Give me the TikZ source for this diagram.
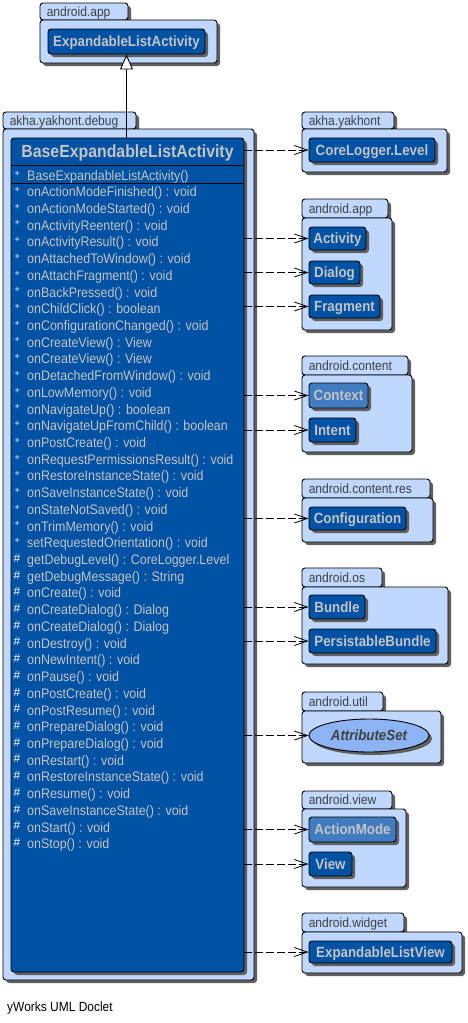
\documentclass[tikz,border=0pt]{standalone}
\usepackage{fontspec}
\setmainfont{Liberation Sans}
\newfontfamily\nf[FakeStretch=0.9]{Liberation Sans}
\usetikzlibrary{shadows,fit,arrows.meta,shapes.geometric,calc}
\definecolor{pkgblue}{HTML}{C0D8FF}
\definecolor{clsblue}{HTML}{0052A4}
\definecolor{clslight}{HTML}{3F7CC0}
\definecolor{ellblue}{HTML}{8CB4F4}
\definecolor{txtgray}{HTML}{C4C4C4}
\definecolor{pkgtext}{HTML}{404040}
\definecolor{shadowgray}{HTML}{606060}
\newcommand\pkgbox[4]{%
  \node[pkgtab, fit={#2}] (#1tab) {};
  \node[pkgbody, fit={#3}] (#1) {};
  \node[pkglabel] at ([xshift=7pt]#1tab.west) {#4};
}
\newcommand\clsnode[7]{%
  \pgfmathsetmacro\mycx{(#3+#5)/2}%
  \pgfmathsetmacro\mycy{(#4+#6)/2}%
  \pgfmathsetmacro\mycw{#5-#3}%
  \pgfmathsetmacro\mych{#6-#4}%
  \node[#1,minimum width=\mycw pt,minimum height=\mych pt] (#2) at (\mycx,\mycy) {#7};
}
\begin{document}
\begin{tikzpicture}[x=1pt,y=-1pt,
  shd/.style={drop shadow={shadow xshift=3pt,shadow yshift=-3pt,fill=shadowgray,opacity=1}},
  pkgtab/.style={draw=black,fill=pkgblue,rounded corners=3pt,line width=0.9pt,inner sep=0pt,shd},
  pkgbody/.style={pkgtab},
  pkglabel/.style={anchor=west,inner sep=0pt,text=pkgtext,text height=9.6pt,text depth=0pt,font=\nf\fontsize{13.4}{15}\selectfont},
  cls/.style={draw=black,fill=clsblue,rounded corners=3pt,line width=0.9pt,inner sep=0pt,shd,text=txtgray,text height=10.5pt,text depth=0pt,font=\nf\fontsize{14.8}{17}\selectfont\bfseries},
  clsl/.style={cls,fill=clslight},
  iface/.style={ellipse,draw=black,fill=ellblue,line width=0.9pt,inner sep=0pt,shd,minimum width=120pt,minimum height=33pt,text=pkgtext,text height=10.5pt,text depth=0pt,font=\nf\fontsize{14.8}{17}\selectfont\bfseries\itshape},
  dep/.style={draw=black,line width=0.8pt,dash pattern=on 8pt off 3pt,-{Straight Barb[length=13pt,width=9pt]}},
  inh/.style={draw=black,line width=0.9pt,-{Triangle[length=15pt,width=13pt,fill=white]}},
  meth/.style={anchor=base west,inner sep=0pt,text=txtgray,font=\nf\fontsize{13.85}{16}\selectfont},
  visp/.style={anchor=base west,inner sep=0pt,text=white,font=\fontsize{9}{11}\selectfont},
  vish/.style={anchor=base west,inner sep=0pt,text=white,font=\fontsize{12}{14}\selectfont},
  sepline/.style={draw=black,line width=0.8pt},
  foot/.style={anchor=base west,inner sep=0pt,text=black,font=\nf\fontsize{13.3}{15}\selectfont}
]
\useasboundingbox (0,0) rectangle (468,1023);

% packages
\pkgbox{pA}{(40,3)(128,20)}{(40,20)(217,63)}{android.app}
\pkgbox{pD}{(3,112)(136,129)}{(3,129)(254,980)}{akha.yakhont.debug}
\pkgbox{pY}{(302,112)(394,129)}{(302,129)(447,172)}{akha.yakhont}
\pkgbox{pB}{(302,199)(388,218)}{(302,218)(392,330)}{android.app}
\pkgbox{pC}{(302,356)(408,375)}{(302,375)(412,452)}{android.content}
\pkgbox{pR}{(302,479)(430,498)}{(302,498)(433,542)}{android.content.res}
\pkgbox{pO}{(302,568)(382,587)}{(302,587)(448,664)}{android.os}
\pkgbox{pU}{(302,692)(383,711)}{(302,711)(441,763)}{android.util}
\pkgbox{pV}{(302,791)(392,809)}{(302,809)(406,887)}{android.view}
\pkgbox{pW}{(302,913)(404,932)}{(302,932)(462,973)}{android.widget}

% classes
\clsnode{cls}{expl}{48}{29}{205}{54}{ExpandableListActivity}
\clsnode{cls}{big}{11}{138}{244}{972}{}
\clsnode{cls}{core}{309}{138}{435}{162}{CoreLogger.Level}
\clsnode{cls}{act}{309}{227}{366}{250}{Activity}
\clsnode{cls}{dlg}{309}{261}{360}{284}{Dialog}
\clsnode{cls}{frag}{309}{295}{380}{318}{Fragment}
\clsnode{clsl}{ctx}{309}{383}{368}{408}{Context}
\clsnode{cls}{intent}{309}{418}{356}{442}{Intent}
\clsnode{cls}{conf}{309}{507}{406}{530}{Configuration}
\clsnode{cls}{bundle}{309}{595}{365}{619}{Bundle}
\clsnode{cls}{pbundle}{309}{629}{436}{653}{PersistableBundle}
\node[iface] (attr) at (369,735.5) {AttributeSet};
\clsnode{clsl}{amode}{309}{817}{396}{842}{ActionMode}
\clsnode{cls}{view}{309}{852}{352}{876}{View}
\clsnode{cls}{elv}{309}{941}{452}{963}{ExpandableListView}

% big class contents
\node[anchor=base,text=txtgray,inner sep=0pt,font=\nf\fontsize{17.6}{20}\selectfont\bfseries] (title) at ($(big.north)+(0,20)$) {BaseExpandableListActivity};
\draw[sepline] ($(big.north west)+(0,28)$) -- ($(big.north east)+(0,28)$);
\draw[sepline] ($(big.north west)+(0,46)$) -- ($(big.north east)+(0,46)$);
\node[visp] (v0) at (14.5,176.5) {+};
\node[meth] (m0) at (27,180.7) {BaseExpandableListActivity()};
\foreach \t [count=\i from 0] in {
  onActionModeFinished() : void,
  onActionModeStarted() : void,
  onActivityReenter() : void,
  onActivityResult() : void,
  onAttachedToWindow() : void,
  onAttachFragment() : void,
  onBackPressed() : void,
  onChildClick() : boolean,
  onConfigurationChanged() : void,
  onCreateView() : View,
  onCreateView() : View,
  onDetachedFromWindow() : void,
  onLowMemory() : void,
  onNavigateUp() : boolean,
  onNavigateUpFromChild() : boolean,
  onPostCreate() : void,
  onRequestPermissionsResult() : void,
  onRestoreInstanceState() : void,
  onSaveInstanceState() : void,
  onStateNotSaved() : void,
  onTrimMemory() : void,
  setRequestedOrientation() : void}{
  \pgfmathsetmacro\yy{196.7+16.72*\i}
  \node[visp] (pv\i) at (14.5,\yy-4.2) {+};
  \node[meth] (pm\i) at (27,\yy) {\t};
}
\foreach \t [count=\i from 22] in {
  getDebugLevel() : CoreLogger.Level,
  getDebugMessage() : String,
  onCreate() : void,
  onCreateDialog() : Dialog,
  onCreateDialog() : Dialog,
  onDestroy() : void,
  onNewIntent() : void,
  onPause() : void,
  onPostCreate() : void,
  onPostResume() : void,
  onPrepareDialog() : void,
  onPrepareDialog() : void,
  onRestart() : void,
  onRestoreInstanceState() : void,
  onResume() : void,
  onSaveInstanceState() : void,
  onStart() : void,
  onStop() : void}{
  \pgfmathsetmacro\yy{196.7+16.72*\i}
  \node[vish] (hv\i) at (13.5,\yy-2.2) {\#};
  \node[meth] (hm\i) at (27,\yy) {\t};
}

% connectors
\draw[inh] (expl.south |- big.north) -- (expl.south);
\foreach \n in {core,act,dlg,frag,ctx,intent,conf,bundle,pbundle,attr,amode,view,elv}{
  \draw[dep] (big.east |- \n.west) -- (\n.west);
}

\node[foot] (footer) at (7,1011) {yWorks UML Doclet};
\end{tikzpicture}
\end{document}
